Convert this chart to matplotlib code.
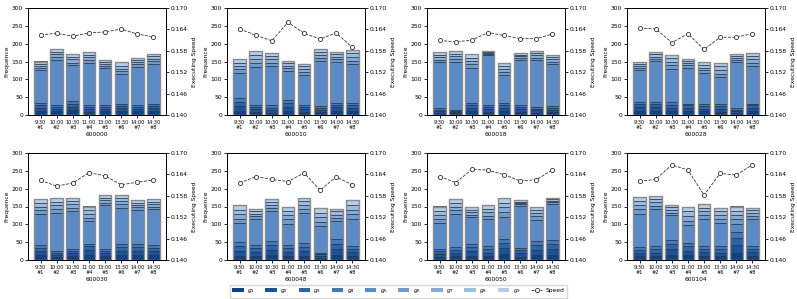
import numpy as np
import matplotlib
matplotlib.use("Agg")
import matplotlib.pyplot as plt
from matplotlib.patches import Patch
from matplotlib.lines import Line2D

slots = ["9:30\n#1", "10:00\n#2", "10:30\n#3", "11:00\n#4",
         "13:00\n#5", "13:30\n#6", "14:00\n#7", "14:30\n#8"]
groups = ["$g_1$", "$g_2$", "$g_3$", "$g_4$", "$g_5$", "$g_6$", "$g_7$", "$g_8$", "$g_9$"]
stocks = ["600000", "600010", "600018", "600028", "600030", "600048", "600050", "600104"]

# frequencies per group (rows g1..g9), one column per time slot
g_600000 = [[12, 10, 14, 9, 10, 11, 10, 12],
            [8, 7, 9, 8, 7, 8, 7, 7],
            [7, 6, 8, 6, 5, 6, 6, 6],
            [6, 4, 7, 5, 5, 5, 5, 5],
            [92, 128, 102, 117, 105, 85, 107, 113],
            [6, 8, 7, 9, 5, 7, 7, 8],
            [7, 7, 9, 8, 6, 8, 6, 7],
            [6, 6, 8, 7, 5, 8, 6, 7],
            [6, 8, 7, 8, 5, 10, 6, 6]]
g_600010 = [[10, 9, 5, 12, 8, 8, 12, 11],
            [14, 7, 8, 11, 8, 6, 10, 9],
            [12, 6, 7, 10, 6, 5, 7, 7],
            [11, 5, 7, 9, 5, 5, 6, 6],
            [71, 107, 111, 81, 86, 127, 115, 109],
            [10, 12, 9, 8, 8, 9, 7, 10],
            [9, 11, 10, 7, 8, 9, 6, 10],
            [10, 12, 9, 7, 8, 8, 7, 11],
            [10, 11, 8, 7, 7, 8, 6, 9]]
g_600018 = [[6, 5, 10, 8, 10, 9, 7, 8],
            [5, 3, 10, 9, 9, 7, 6, 7],
            [4, 3, 8, 6, 8, 7, 5, 5],
            [4, 2, 7, 5, 6, 5, 4, 4],
            [129, 137, 97, 140, 79, 127, 133, 119],
            [7, 8, 10, 3, 9, 5, 6, 6],
            [7, 7, 9, 3, 8, 5, 6, 7],
            [7, 6, 10, 3, 9, 4, 6, 6],
            [8, 9, 9, 3, 8, 5, 7, 6]]
g_600028 = [[12, 11, 11, 12, 10, 9, 6, 11],
            [10, 11, 9, 8, 8, 9, 5, 9],
            [8, 8, 9, 7, 7, 7, 4, 7],
            [6, 6, 7, 5, 5, 5, 4, 5],
            [89, 115, 94, 100, 87, 76, 129, 105],
            [6, 7, 10, 7, 8, 10, 6, 9],
            [6, 6, 9, 6, 8, 10, 6, 10],
            [6, 7, 10, 6, 8, 10, 5, 9],
            [6, 6, 9, 6, 8, 10, 6, 9]]
g_600030 = [[14, 8, 10, 15, 10, 14, 14, 13],
            [12, 6, 9, 13, 9, 12, 12, 11],
            [9, 5, 7, 10, 6, 11, 10, 10],
            [7, 5, 6, 8, 5, 8, 8, 7],
            [88, 109, 105, 62, 123, 102, 97, 102],
            [10, 9, 10, 11, 7, 9, 7, 7],
            [10, 11, 9, 10, 7, 9, 7, 6],
            [11, 10, 9, 10, 7, 9, 6, 7],
            [9, 10, 10, 11, 7, 9, 7, 7]]
g_600048 = [[12, 10, 15, 11, 12, 6, 15, 10],
            [14, 12, 14, 12, 13, 5, 16, 12],
            [13, 11, 13, 10, 12, 5, 15, 9],
            [11, 9, 11, 9, 10, 4, 12, 7],
            [53, 74, 84, 60, 86, 75, 52, 78],
            [13, 7, 9, 12, 11, 12, 9, 13],
            [12, 7, 9, 12, 10, 13, 8, 12],
            [13, 7, 8, 11, 11, 12, 9, 13],
            [12, 7, 9, 12, 10, 13, 8, 13]]
g_600050 = [[9, 10, 12, 10, 16, 9, 14, 15],
            [9, 10, 13, 11, 17, 10, 15, 16],
            [8, 9, 12, 9, 15, 8, 13, 14],
            [6, 7, 9, 8, 12, 7, 10, 10],
            [71, 94, 74, 76, 60, 118, 61, 102],
            [12, 10, 7, 10, 14, 4, 9, 5],
            [12, 10, 7, 10, 14, 4, 9, 4],
            [11, 10, 7, 9, 13, 4, 8, 5],
            [12, 10, 7, 10, 14, 4, 9, 4]]
g_600104 = [[10, 11, 15, 13, 11, 10, 20, 11],
            [10, 10, 15, 13, 11, 10, 22, 11],
            [9, 10, 14, 12, 10, 10, 20, 10],
            [7, 7, 11, 10, 8, 8, 16, 8],
            [94, 105, 70, 49, 76, 67, 24, 76],
            [12, 9, 8, 13, 10, 11, 12, 8],
            [12, 10, 7, 14, 10, 10, 12, 8],
            [11, 9, 8, 13, 10, 11, 12, 7],
            [12, 9, 7, 13, 10, 10, 12, 8]]

speed_600000 = [0.1625, 0.1629, 0.1621, 0.1630, 0.1633, 0.1641, 0.1627, 0.1619]
speed_600010 = [0.1641, 0.1624, 0.1608, 0.1660, 0.1629, 0.1613, 0.1630, 0.1590]
speed_600018 = [0.1609, 0.1605, 0.1610, 0.1631, 0.1623, 0.1614, 0.1614, 0.1627]
speed_600028 = [0.1644, 0.1641, 0.1603, 0.1628, 0.1584, 0.1618, 0.1618, 0.1628]
speed_600030 = [0.1623, 0.1607, 0.1616, 0.1645, 0.1636, 0.1611, 0.1618, 0.1624]
speed_600048 = [0.1616, 0.1634, 0.1626, 0.1620, 0.1644, 0.1596, 0.1633, 0.1611]
speed_600050 = [0.1634, 0.1617, 0.1654, 0.1652, 0.1639, 0.1622, 0.1625, 0.1652]
speed_600104 = [0.1621, 0.1626, 0.1667, 0.1652, 0.1582, 0.1643, 0.1638, 0.1667]

freqs = [g_600000, g_600010, g_600018, g_600028, g_600030, g_600048, g_600050, g_600104]
speeds = [speed_600000, speed_600010, speed_600018, speed_600028,
          speed_600030, speed_600048, speed_600050, speed_600104]

colors = ['#0e4285', '#1a539c', '#2a64ab', '#4277ba', '#5b8bc6',
          '#6f9acc', '#86abd6', '#9dbde0', '#b4cee9']

fig = plt.figure(figsize=(7.97, 2.99), dpi=100)
lefts = [28, 227, 427, 627]
bottoms = [1 - 115/299, 1 - 260/299]
x = np.arange(len(slots))
fs = 4.3

for k, stock in enumerate(stocks):
    r, c = divmod(k, 4)
    ax = fig.add_axes([lefts[c]/797, bottoms[r], 138/797, 107/299])
    data = np.array(freqs[k], dtype=float)
    bottom = np.zeros(len(slots))
    for i in range(9):
        ax.bar(x, data[i], 0.8, bottom=bottom, color=colors[i],
               edgecolor='#233247', linewidth=0.5)
        bottom += data[i]
    ax.bar(x, bottom, 0.8, fill=False, edgecolor='#8a8a8a', linewidth=1.0)
    ax.set_ylim(0, 300)
    ax.set_yticks(range(0, 301, 50))
    ax.set_xticks(x)
    ax.set_xticklabels(slots, fontsize=3.6, linespacing=1.0)
    ax.tick_params(axis='y', labelsize=fs, length=2, width=0.6, pad=1.5)
    ax.tick_params(axis='x', length=2, width=0.6, pad=1.5)
    ax.set_ylabel("Frequence", fontsize=fs, labelpad=1.5)
    ax.set_xlabel(stock, fontsize=fs, labelpad=1.5)
    for sp in ax.spines.values():
        sp.set_linewidth(0.7)

    ax2 = ax.twinx()
    ax2.plot(x, speeds[k], color='#333333', linestyle='--', linewidth=0.6,
             marker='o', markersize=3.0, markerfacecolor='white',
             markeredgecolor='#333333', markeredgewidth=0.6)
    ax2.set_ylim(0.140, 0.170)
    ax2.set_yticks([0.140, 0.146, 0.152, 0.158, 0.164, 0.170])
    ax2.set_yticklabels(["0.140", "0.146", "0.152", "0.158", "0.164", "0.170"])
    ax2.tick_params(axis='y', labelsize=fs, length=2, width=0.6, pad=1.5)
    ax2.set_ylabel("Executing Speed", fontsize=fs, labelpad=3)
    for sp in ax2.spines.values():
        sp.set_linewidth(0.7)

handles = [Patch(facecolor=colors[i], edgecolor='none', label=groups[i]) for i in range(9)]
handles.append(Line2D([], [], color='#333333', linestyle='--', linewidth=0.6,
                      marker='o', markersize=3.0, markerfacecolor='white',
                      markeredgewidth=0.6, label='Speed'))
fig.legend(handles=handles, loc='center', bbox_to_anchor=(0.5, 0.026), ncol=10,
           fontsize=fs, frameon=True, handlelength=1.9, handleheight=0.6,
           columnspacing=1.7, handletextpad=0.6, borderpad=0.4, fancybox=False,
           edgecolor='#cccccc')

fig.savefig("out.png", dpi=100)
